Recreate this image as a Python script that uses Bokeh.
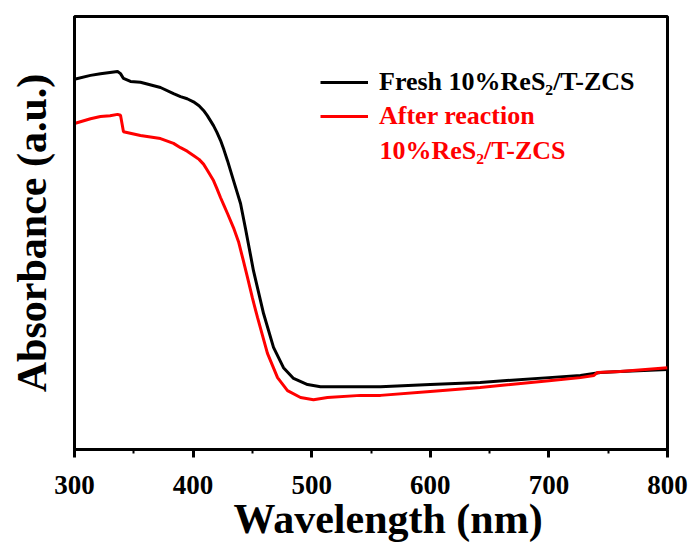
from bokeh.plotting import figure
from bokeh.models import Range1d, Legend, LegendItem, Label, Title, FixedTicker
from bokeh.embed import file_html
from bokeh.resources import INLINE

# ---- data ----
wl_fresh = [300, 313.5, 321.9, 336.3, 338.8, 341.3, 347.2, 355.6, 372.5, 383.5,
            389.4, 395.0, 400.3, 405.0, 408.8, 412.0, 417.2, 420.0, 423.1, 426.0,
            429.0, 434.1, 437.0, 440.0, 444.2, 450.9, 459.4, 467.8, 476.2, 484.7,
            496.5, 507.4, 541.1, 558, 600, 642, 700, 726.6, 743.5, 760, 800]
abs_fresh = [0.855, 0.864, 0.868, 0.873, 0.868, 0.857, 0.850, 0.848, 0.836, 0.822,
             0.815, 0.810, 0.803, 0.794, 0.783, 0.771, 0.748, 0.733, 0.714, 0.692,
             0.667, 0.621, 0.595, 0.568, 0.510, 0.413, 0.314, 0.236, 0.189, 0.164,
             0.150, 0.145, 0.145, 0.145, 0.150, 0.155, 0.166, 0.171, 0.178, 0.180, 0.185]

wl_after = [300, 313.5, 321.9, 330, 336.3, 338.8, 341.3, 355.6, 372.5, 383.5,
            389.4, 395.0, 400.3, 405.0, 408.8, 412.0, 417.2, 420.0, 423.1, 426.0,
            429.0, 434.1, 438.3, 442.0, 445.9, 450.0, 454.3, 462.7, 471.2, 479.6,
            490.6, 501.5, 513.3, 541.1, 558, 600, 642, 700, 726.6, 738, 741, 760, 800]
abs_after = [0.753, 0.764, 0.769, 0.771, 0.774, 0.772, 0.734, 0.725, 0.718, 0.707,
             0.697, 0.689, 0.679, 0.670, 0.659, 0.645, 0.621, 0.603, 0.582, 0.564,
             0.545, 0.512, 0.480, 0.440, 0.397, 0.350, 0.305, 0.222, 0.166, 0.136,
             0.120, 0.115, 0.120, 0.125, 0.125, 0.134, 0.143, 0.159, 0.166, 0.171,
             0.178, 0.180, 0.189]

x_ticks = [300, 400, 500, 600, 700, 800]
x_minor = [350, 450, 550, 650, 750]
label_fresh = "Fresh 10%ReS\u2082/T-ZCS"
label_after_1 = "After reaction"
label_after_2 = "10%ReS\u2082/T-ZCS"

FONT = "Liberation Serif"

p = figure(width=693, height=547, output_backend="svg", toolbar_location=None,
           x_range=Range1d(300, 800), y_range=Range1d(0, 1),
           min_border_left=74, min_border_right=26, min_border_top=16,
           min_border_bottom=98)
p.background_fill_color = "white"
p.border_fill_color = "white"
p.grid.visible = False
p.outline_line_color = "black"
p.outline_line_width = 3

r1 = p.line(wl_fresh, abs_fresh, line_color="black", line_width=3)
r2 = p.line(wl_after, abs_after, line_color="#ff0000", line_width=3)

# x axis
xa = p.xaxis[0]
xa.ticker = FixedTicker(ticks=x_ticks, minor_ticks=x_minor)
xa.axis_line_width = 3
xa.major_tick_line_width = 3
xa.minor_tick_line_width = 2
xa.major_tick_in = 0
xa.major_tick_out = 8
xa.minor_tick_in = 0
xa.minor_tick_out = 4
xa.major_label_standoff = 18
xa.major_label_text_font = FONT
xa.major_label_text_font_style = "bold"
xa.major_label_text_font_size = "27px"
xa.major_label_text_color = "black"

# y axis
ya = p.yaxis[0]
ya.axis_line_width = 3
ya.major_tick_line_color = None
ya.minor_tick_line_color = None
ya.major_tick_out = 0
ya.major_tick_in = 0
ya.minor_tick_out = 0
ya.minor_tick_in = 0
ya.major_label_text_font_size = "0px"
ya.major_label_text_color = None
ya.axis_label = "Absorbance (a.u.)"
ya.axis_label_text_font = FONT
ya.axis_label_text_font_style = "bold"
ya.axis_label_text_font_size = "42px"
ya.axis_label_text_color = "black"
ya.axis_label_standoff = 20

# x label as a title below (offset to match reference)
xt = Title(text="Wavelength (nm)", align="left", offset=159,
           text_font=FONT, text_font_style="bold", text_font_size="42px",
           text_color="black", standoff=-6)
p.add_layout(xt, "below")

# legends
common = dict(padding=0, margin=0, spacing=0, glyph_width=48, glyph_height=32,
              label_height=32, label_standoff=11, border_line_color=None,
              background_fill_alpha=0, label_text_font=FONT,
              label_text_font_style="bold", label_text_font_size="26px")
leg1 = Legend(items=[LegendItem(label=label_fresh, renderers=[r1])],
              location=(246, 351), label_text_color="black", **common)
leg2 = Legend(items=[LegendItem(label=label_after_1, renderers=[r2])],
              location=(246, 317), label_text_color="#ff0000", **common)
p.add_layout(leg1)
p.add_layout(leg2)

lab = Label(x=305, y=299, x_units="screen", y_units="screen", text=label_after_2,
            text_font=FONT, text_font_style="bold", text_font_size="26px",
            text_color="#ff0000", text_baseline="alphabetic")
p.add_layout(lab)

open("out.html", "w").write(file_html(p, INLINE))
